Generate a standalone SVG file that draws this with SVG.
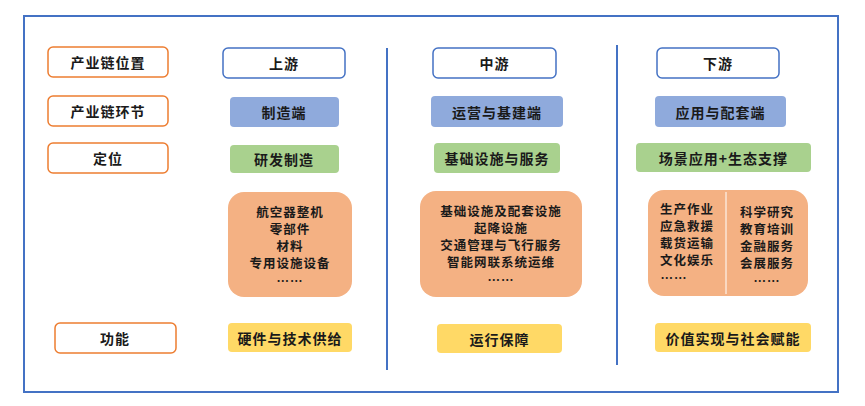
<svg xmlns="http://www.w3.org/2000/svg" width="865" height="406" viewBox="0 0 865 406">
<style>
text{font-family:"Noto Sans CJK SC","Noto Sans",sans-serif;font-size:14px;font-weight:bold;fill:#1a1a1a;text-anchor:middle;dominant-baseline:central;letter-spacing:1px}
.s{font-size:12.5px}
.lab{fill:#fff;stroke:#ED7D31;stroke-width:1.5}
.pos{fill:#fff;stroke:#4472C4;stroke-width:1.5}
.blue{fill:#8FAADC}
.green{fill:#A9D18E}
.sal{fill:#F4B183}
.yel{fill:#FFD966}
.ln{stroke:#4472C4;stroke-width:2}
</style>
<rect x="24" y="16" width="814" height="376" fill="#fff" stroke="#4472C4" stroke-width="2"/>
<g id="connectors">
<line class="ln" x1="387" y1="48" x2="387" y2="370"/>
<line class="ln" x1="617" y1="45" x2="617" y2="365"/>
</g>
<g id="lab1"><rect class="lab" x="48" y="47" width="120" height="30" rx="5"/><text x="108" y="62">产业链位置</text></g>
<g id="lab2"><rect class="lab" x="48" y="96" width="120" height="30" rx="5"/><text x="108" y="111">产业链环节</text></g>
<g id="lab3"><rect class="lab" x="48" y="143" width="120" height="30" rx="5"/><text x="108" y="158">定位</text></g>
<g id="lab4"><rect class="lab" x="55" y="323" width="121" height="30" rx="5"/><text x="115" y="338">功能</text></g>

<g id="up-pos"><rect class="pos" x="223" y="48" width="122" height="30" rx="5"/><text x="284" y="63">上游</text></g>
<g id="up-seg"><rect class="blue" x="230" y="97" width="109" height="30" rx="4"/><text x="284" y="112">制造端</text></g>
<g id="up-role"><rect class="green" x="230" y="145" width="109" height="28" rx="4"/><text x="284" y="159">研发制造</text></g>
<g id="up-items"><rect class="sal" x="228" y="192" width="124" height="105" rx="16"/>
<text class="s" x="290" y="211">航空器整机</text><text class="s" x="290" y="228">零部件</text><text class="s" x="290" y="245">材料</text><text class="s" x="290" y="262">专用设施设备</text><text class="s" x="290" y="280">……</text></g>
<g id="up-func"><rect class="yel" x="228" y="323" width="124" height="29" rx="4"/><text x="290" y="337.5">硬件与技术供给</text></g>

<g id="mid-pos"><rect class="pos" x="433" y="48" width="123" height="30" rx="5"/><text x="494.5" y="63">中游</text></g>
<g id="mid-seg"><rect class="blue" x="431" y="96" width="132" height="31" rx="4"/><text x="497" y="111.5">运营与基建端</text></g>
<g id="mid-role"><rect class="green" x="434" y="143" width="126" height="30" rx="4"/><text x="497" y="158">基础设施与服务</text></g>
<g id="mid-items"><rect class="sal" x="420" y="191" width="162" height="106" rx="16"/>
<text class="s" x="501" y="210">基础设施及配套设施</text><text class="s" x="501" y="227">起降设施</text><text class="s" x="501" y="244">交通管理与飞行服务</text><text class="s" x="501" y="261">智能网联系统运维</text><text class="s" x="501" y="279">……</text></g>
<g id="mid-func"><rect class="yel" x="437" y="324" width="125" height="29" rx="4"/><text x="499.5" y="338.5">运行保障</text></g>

<g id="down-pos"><rect class="pos" x="657" y="48" width="122" height="30" rx="5"/><text x="718" y="63">下游</text></g>
<g id="down-seg"><rect class="blue" x="655" y="96" width="131" height="31" rx="4"/><text x="720.5" y="111.5">应用与配套端</text></g>
<g id="down-role"><rect class="green" x="636" y="143" width="175" height="29" rx="4"/><text x="723.5" y="157.5">场景应用+生态支撑</text></g>
<g id="down-items"><rect class="sal" x="648" y="190" width="160" height="106" rx="16"/>
<line x1="726" y1="192" x2="726" y2="294" stroke="#fff" stroke-width="1"/>
<text class="s" x="687" y="208">生产作业</text><text class="s" x="687" y="225">应急救援</text><text class="s" x="687" y="242">载货运输</text><text class="s" x="687" y="259">文化娱乐</text><text class="s" x="674" y="277">……</text>
<text class="s" x="767" y="211">科学研究</text><text class="s" x="767" y="228">教育培训</text><text class="s" x="767" y="245">金融服务</text><text class="s" x="767" y="262">会展服务</text><text class="s" x="767" y="280">……</text></g>
<g id="down-func"><rect class="yel" x="655" y="323" width="156" height="29" rx="4"/><text x="733" y="337.5">价值实现与社会赋能</text></g>
</svg>
